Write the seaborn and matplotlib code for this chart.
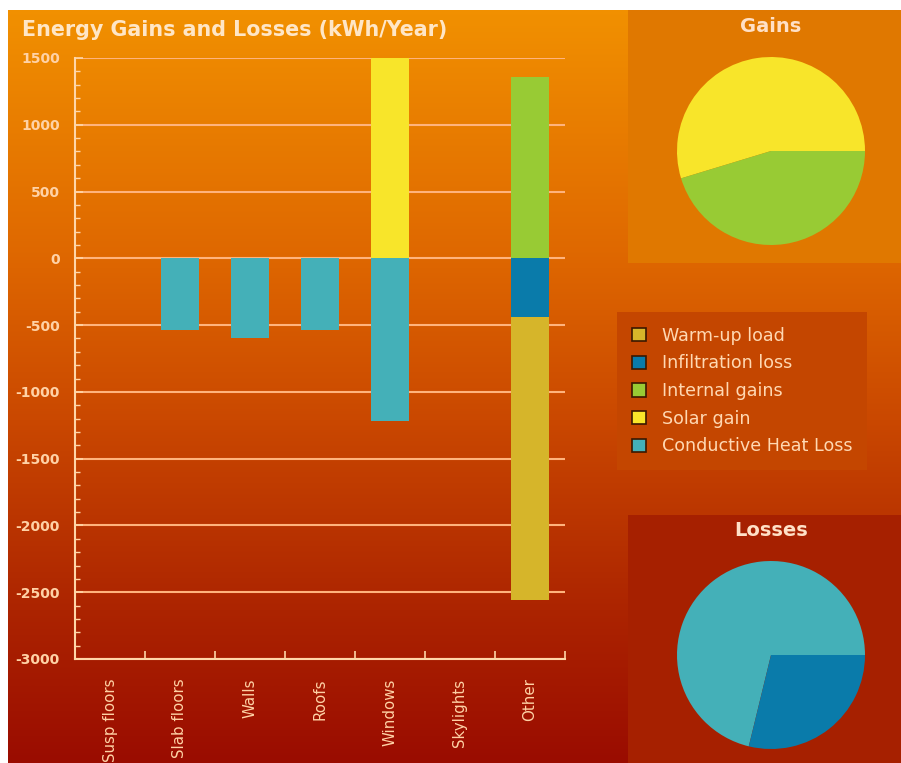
import numpy as np
import pandas as pd
import matplotlib
matplotlib.use("Agg")
import matplotlib.pyplot as plt
import seaborn as sns
from matplotlib.colors import LinearSegmentedColormap
from matplotlib.patches import Rectangle, Patch
from matplotlib.ticker import MultipleLocator, FixedLocator

# ---------------- data ----------------
categories = ["Susp floors", "Slab floors", "Walls", "Roofs", "Windows", "Skylights", "Other"]
conductive = [0, -540, -600, -540, -1215, 0, 0]
solar = [0, 0, 0, 0, 1636, 0, 0]
internal = [0, 0, 0, 0, 0, 0, 1355]
infiltration = [0, 0, 0, 0, 0, 0, -440]
warmup = [0, 0, 0, 0, 0, 0, -2120]
yticks = [1500, 1000, 500, 0, -500, -1000, -1500, -2000, -2500, -3000]

gains_labels = ["Solar gain", "Internal gains"]
gains_values = [1636, 1355]
losses_labels = ["Conductive Heat Loss", "Infiltration loss"]
losses_values = [71.2, 28.8]

legend_labels = ["Warm-up load", "Infiltration loss", "Internal gains", "Solar gain", "Conductive Heat Loss"]

colors = {
    "Warm-up load": "#D6B52A",
    "Infiltration loss": "#0A7BAA",
    "Internal gains": "#98CB34",
    "Solar gain": "#F8E52A",
    "Conductive Heat Loss": "#44B0B8",
}

# ---------------- figure ----------------
sns.set_style("white")
plt.rcParams["font.family"] = ["DejaVu Sans"]

W, H = 901, 763
fig = plt.figure(figsize=(W / 100, H / 100), dpi=100)

def fx(px):
    return px / W

def fy(py):
    return 1 - py / H

# background gradient
bg = fig.add_axes([0, 0, 1, 1], zorder=-10)
grad_cmap = LinearSegmentedColormap.from_list(
    "bg",
    [(0.0, "#F29200"), (0.33, "#DF6800"), (0.55, "#CA4800"), (0.8, "#AC2400"), (1.0, "#9A0C00")],
)
gradient = np.linspace(0, 1, 256).reshape(-1, 1)
bg.imshow(gradient, aspect="auto", extent=[0, 1, 0, 1], cmap=grad_cmap, origin="upper")
bg.set_xlim(0, 1)
bg.set_ylim(0, 1)
bg.axis("off")
# white border strips
bg.add_patch(Rectangle((0, 0), fx(8), 1, facecolor="white", edgecolor="none"))
bg.add_patch(Rectangle((0, fy(10)), 1, 10 / H, facecolor="white", edgecolor="none"))
# side panels
bg.add_patch(Rectangle((fx(628), fy(263)), 1 - fx(628), (263 - 10) / H, facecolor="#E07800", edgecolor="none"))
bg.add_patch(Rectangle((fx(628), 0), 1 - fx(628), (H - 515) / H, facecolor="#A62000", edgecolor="none"))

# ---------------- bar chart ----------------
ax = fig.add_axes([fx(75), fy(659), fx(565) - fx(75), (659 - 58) / H])
ax.patch.set_alpha(0)

df = pd.DataFrame({
    "category": categories,
    "conductive": conductive,
    "solar": solar,
    "internal": internal,
    "infiltration": infiltration,
    "warmup": warmup,
})

bw = 0.53
sns.barplot(data=df, x="category", y="conductive", order=categories, color=colors["Conductive Heat Loss"],
            saturation=1, width=bw, errorbar=None, ax=ax, linewidth=0)
sns.barplot(data=df, x="category", y="solar", order=categories, color=colors["Solar gain"],
            saturation=1, width=bw, errorbar=None, ax=ax, linewidth=0)
sns.barplot(data=df, x="category", y="internal", order=categories, color=colors["Internal gains"],
            saturation=1, width=bw, errorbar=None, ax=ax, linewidth=0)
sns.barplot(data=df, x="category", y="infiltration", order=categories, color=colors["Infiltration loss"],
            saturation=1, width=bw, errorbar=None, ax=ax, linewidth=0)
sns.barplot(data=df, x="category", y="warmup", order=categories, color=colors["Warm-up load"],
            saturation=1, width=bw, errorbar=None, ax=ax, linewidth=0, bottom=infiltration)

ax.set_xlabel("")
ax.set_ylabel("")
ax.set_ylim(-3000, 1500)
ax.set_xlim(-0.5, len(categories) - 0.5)
ax.set_yticks(yticks)
ax.set_yticklabels([str(v) for v in yticks])
ax.yaxis.set_minor_locator(MultipleLocator(100))
ax.set_xticks(range(len(categories)))
ax.set_xticklabels(categories, rotation=90, va="top", ha="center")
ax.xaxis.set_minor_locator(FixedLocator(np.arange(-0.5, len(categories), 1.0)))

axis_col = "#FFD6A8"
label_col = "#FFD2A6"
grid_col = "#FFB37C"
ax.yaxis.grid(True, color=grid_col, linewidth=1.5)
ax.xaxis.grid(False)
ax.set_axisbelow(True)
for s in ["top", "right"]:
    ax.spines[s].set_visible(False)
for s in ["left", "bottom"]:
    ax.spines[s].set_color(axis_col)
    ax.spines[s].set_linewidth(1.5)

ax.tick_params(axis="y", which="major", left=True, direction="in", length=6, width=1.2, color=axis_col,
               labelcolor=label_col, labelsize=10, pad=11)
ax.tick_params(axis="y", which="minor", left=True, direction="in", length=3.5, width=1.0, color=axis_col)
ax.tick_params(axis="x", which="major", bottom=True, length=0, labelcolor=label_col, labelsize=10.8, pad=14)
ax.tick_params(axis="x", which="minor", bottom=True, direction="in", length=6, width=1.2, color=axis_col)
for t in ax.get_yticklabels():
    t.set_fontweight("bold")

fig.text(fx(22), fy(30), "Energy Gains and Losses (kWh/Year)", ha="left", va="center",
         fontsize=14.9, fontweight="bold", color="#FFE6C6")

# ---------------- pies ----------------
r = 94
gax = fig.add_axes([fx(771 - r), fy(151 + r), 2 * r / W, 2 * r / H])
gax.pie(gains_values, colors=[colors[l] for l in gains_labels], startangle=0, counterclock=True,
        wedgeprops=dict(linewidth=0), radius=1, frame=False)
gax.set_xlim(-1, 1)
gax.set_ylim(-1, 1)
gax.set_aspect("equal")
gax.axis("off")
fig.text(fx(771), fy(27), "Gains", ha="center", va="center", fontsize=14, fontweight="bold", color="#FFE0C6")

lax = fig.add_axes([fx(771 - r), fy(655 + r), 2 * r / W, 2 * r / H])
lax.pie(losses_values, colors=[colors[l] for l in losses_labels], startangle=0, counterclock=True,
        wedgeprops=dict(linewidth=0), radius=1, frame=False)
lax.set_xlim(-1, 1)
lax.set_ylim(-1, 1)
lax.set_aspect("equal")
lax.axis("off")
fig.text(fx(771), fy(531), "Losses", ha="center", va="center", fontsize=14, fontweight="bold", color="#FFE0C6")

# ---------------- legend ----------------
handles = [Patch(facecolor=colors[l], edgecolor="#3A1800", linewidth=1.2, label=l) for l in legend_labels]
leg = fig.legend(handles=handles, loc="upper left", bbox_to_anchor=(fx(617), fy(312)),
                 frameon=True, facecolor="#C44600", edgecolor="none", framealpha=1, fancybox=False,
                 fontsize=12.6, labelcolor="#FFD8B2", handlelength=0.8, handleheight=0.8,
                 labelspacing=0.55, borderpad=0.85, handletextpad=0.9, borderaxespad=0)

fig.savefig("out.png", dpi=100)
